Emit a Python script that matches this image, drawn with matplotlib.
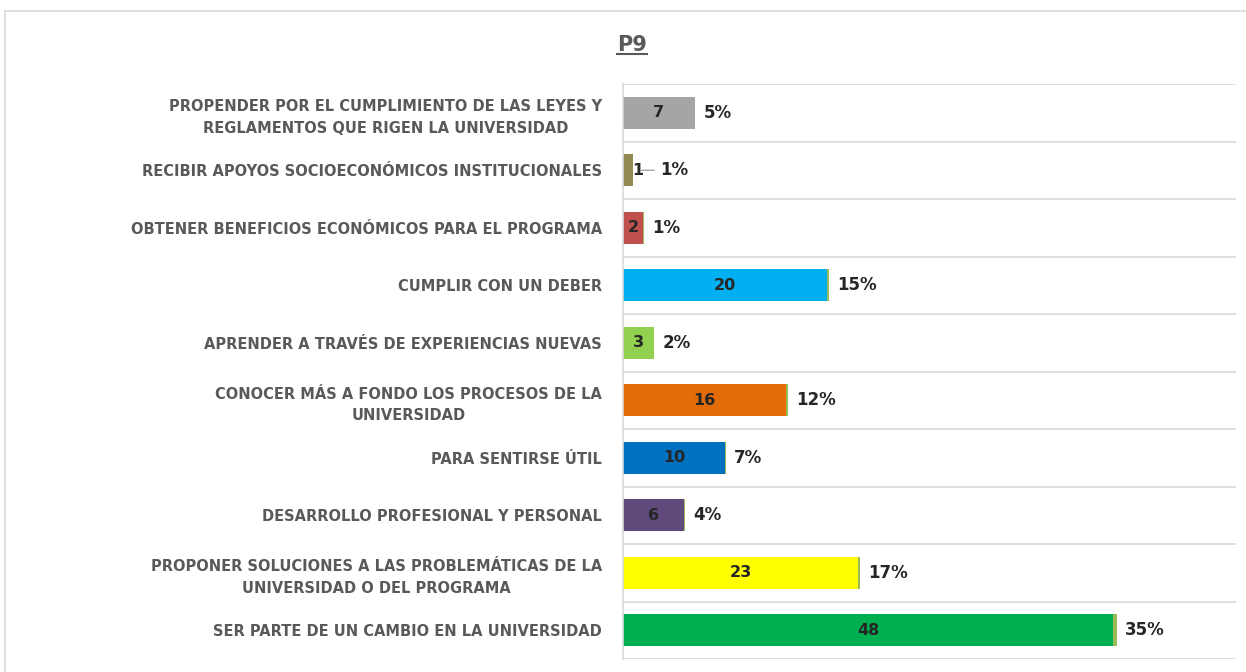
import numpy as np
import matplotlib
matplotlib.use("Agg")
import matplotlib.pyplot as plt
from matplotlib.patches import Rectangle
from matplotlib.lines import Line2D

labels = [
    "PROPENDER POR EL CUMPLIMIENTO DE LAS LEYES Y\nREGLAMENTOS QUE RIGEN LA UNIVERSIDAD",
    "RECIBIR APOYOS SOCIOECONÓMICOS INSTITUCIONALES",
    "OBTENER BENEFICIOS ECONÓMICOS PARA EL PROGRAMA",
    "CUMPLIR CON UN DEBER",
    "APRENDER A TRAVÉS DE EXPERIENCIAS NUEVAS",
    "CONOCER MÁS A FONDO LOS PROCESOS DE LA\nUNIVERSIDAD",
    "PARA SENTIRSE ÚTIL",
    "DESARROLLO PROFESIONAL Y PERSONAL",
    "PROPONER SOLUCIONES A LAS PROBLEMÁTICAS DE LA\nUNIVERSIDAD O DEL PROGRAMA",
    "SER PARTE DE UN CAMBIO EN LA UNIVERSIDAD",
]
counts = [7, 1, 2, 20, 3, 16, 10, 6, 23, 48]
pcts = [0.05, 0.01, 0.01, 0.15, 0.02, 0.12, 0.07, 0.04, 0.17, 0.35]
colors = ["#A5A5A5", "#948A54", "#C0504D", "#00B0F0", "#92D050",
          "#E36C09", "#0070C0", "#604A7B", "#FFFF00", "#00B050"]
pct_color = "#9BBB59"
txt = "#595959"
num = "#262626"

fig = plt.figure(figsize=(12.46, 6.72), dpi=100)
fig.patches.append(Rectangle((5 / 1246, -0.1), 1.2, 1 - 11 / 672 + 0.1,
                             transform=fig.transFigure, fill=False,
                             edgecolor="#D9D9D9", lw=1.2))
ax = fig.add_axes([623 / 1246, 1 - 659 / 672, (1236 - 623) / 1246, (659 - 84) / 672])

y = np.arange(len(labels))
ax.barh(y, counts, height=0.56, color=colors)
ax.barh(y, pcts, left=counts, height=0.56, color=pct_color)

for i, (c, p) in enumerate(zip(counts, pcts)):
    if c >= 2:
        ax.text(c / 2, i, str(c), ha="center", va="center", fontsize=11.5,
                fontweight="bold", color=num)
        ax.annotate(f"{p:.0%}", (c + p, i), xytext=(6, 0), textcoords="offset points",
                    ha="left", va="center", fontsize=12, fontweight="bold", color=num)
    else:
        ax.text(c - 0.1, i, str(c), ha="left", va="center", fontsize=11.5,
                fontweight="bold", color=num)
        ax.annotate(f"{p:.0%}", (c + 0.7, i), xytext=(14, 0), textcoords="offset points",
                    ha="left", va="center", fontsize=12, fontweight="bold", color=num,
                    arrowprops=dict(arrowstyle="-", color="#A6A6A6", lw=1,
                                    shrinkA=2, shrinkB=0))

ax.set_xlim(0, 60)
ax.set_ylim(len(labels) - 0.5, -0.5)
ax.set_xticks([])
ax.set_yticks(y)
ax.set_yticklabels(labels, fontsize=10.5, fontweight="bold", color=txt, linespacing=1.55)
for t in ax.get_yticklabels():
    t.set_multialignment("center")
ax.tick_params(axis="y", length=0, pad=15)
ax.set_yticks(np.arange(len(labels) + 1) - 0.5, minor=True)
ax.tick_params(axis="y", which="minor", length=0)
ax.grid(axis="y", which="minor", color="#D9D9D9", lw=1.2)
ax.set_axisbelow(True)
for s in ["top", "right", "bottom"]:
    ax.spines[s].set_visible(False)
ax.spines["left"].set_color("#D9D9D9")
ax.spines["left"].set_linewidth(1.2)

title = fig.text(632 / 1246, 1 - 45 / 672, "P9", ha="center", va="center",
                 fontsize=15, fontweight="bold", color=txt)
fig.canvas.draw()
bb = title.get_window_extent().transformed(fig.transFigure.inverted())
fig.add_artist(Line2D([bb.x0, bb.x1], [bb.y0 + 0.002, bb.y0 + 0.002],
                      transform=fig.transFigure, color=txt, lw=1.5))

fig.savefig("out.png", dpi=100)
